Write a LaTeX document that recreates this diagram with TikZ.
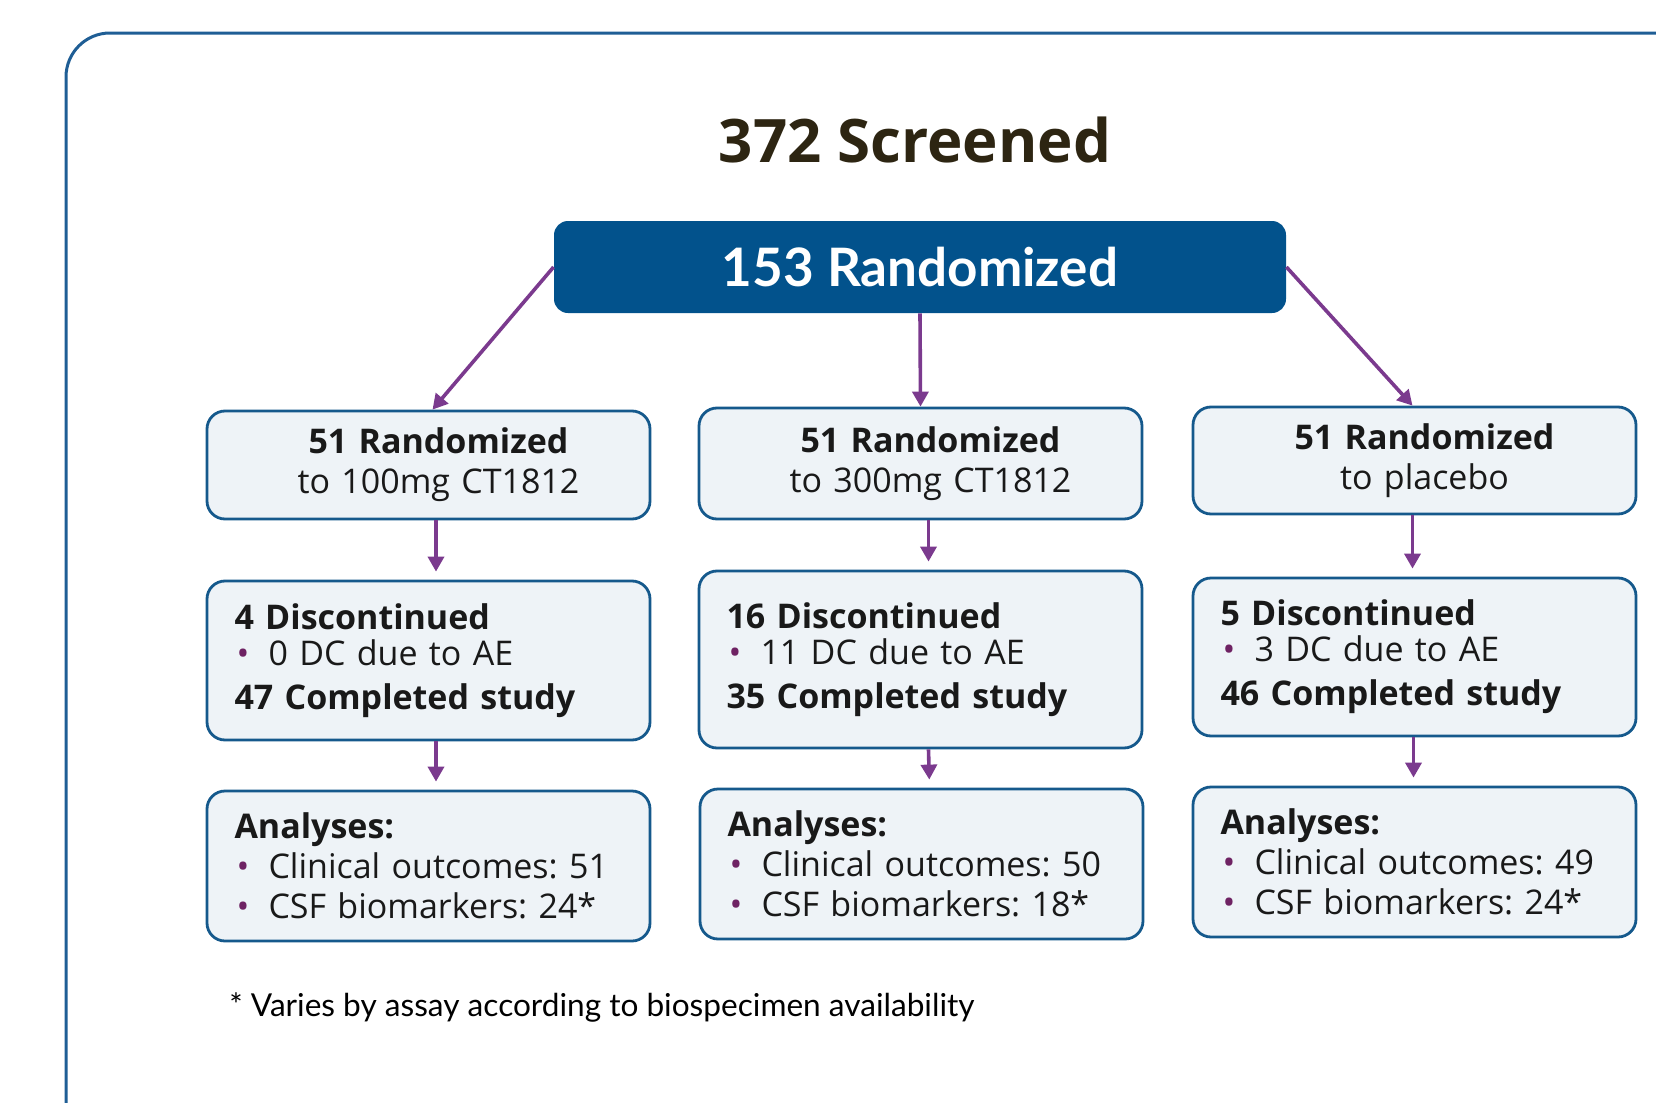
\documentclass[tikz,border=0pt]{standalone}
\usepackage{fontspec}
\setmainfont{Open Sans}
\newfontfamily\narrowfont{Lato}
\usetikzlibrary{arrows.meta, positioning}
\definecolor{frameblue}{HTML}{1F5E95}
\definecolor{boxblue}{HTML}{15598C}
\definecolor{boxfill}{HTML}{EEF3F7}
\definecolor{mainfill}{HTML}{02528C}
\definecolor{flowpurple}{HTML}{7B3A8E}
\definecolor{bulletpurple}{HTML}{6E2263}
\definecolor{titlebrown}{HTML}{2D2512}
\newcommand{\bitem}[1]{\makebox[17pt][l]{\hspace{1pt}\textcolor{bulletpurple}{\textbullet}}#1}
\newcommand{\armtitle}[2]{\hspace*{10pt}\textbf{#1}\\\hspace*{10pt}#2}

\begin{document}
\frenchspacing
\begin{tikzpicture}[x=0.5pt, y=-0.5pt,
    armbox/.style={draw=boxblue, fill=boxfill, line width=1.4pt, rounded corners=9pt,
      text width=194pt, inner xsep=13.75pt, inner ysep=0pt, align=left,
      font=\fontsize{17pt}{20pt}\selectfont, text=black!90},
    mainbox/.style={fill=mainfill, rounded corners=7pt, minimum width=366pt,
      minimum height=46pt, text=white, font=\narrowfont\bfseries\fontsize{26.5pt}{30pt}\selectfont},
    flow/.style={draw=flowpurple, line width=1.8pt, -{Triangle[length=7.5pt,width=8pt]}}]
\useasboundingbox (0,0) rectangle (1656,1103);
\clip (0,0) rectangle (1656,1103);
% outer frame, runs off the page at right and bottom
\draw[frameblue, line width=1.5pt, rounded corners=22pt] (66,1200) -- (66,33) -- (1750,33);

\node[text=titlebrown, font=\bfseries\fontsize{30pt}{34pt}\selectfont] (screened) at (915,140) {372 Screened};
\node[mainbox] (rand) at (920,267) {153 Randomized};

% arms
\node[armbox, align=center, minimum height=54pt] (r100) at (428.5,465)
  {\armtitle{51 Randomized}{to 100mg CT1812}};
\node[armbox, align=center, minimum height=55.5pt] (r300) at (920.5,463.5)
  {\armtitle{51 Randomized}{to 300mg CT1812}};
\node[armbox, align=center, minimum height=53.5pt] (rpl) at (1414.5,460.5)
  {\armtitle{51 Randomized}{to placebo}};

% discontinued
\node[armbox, minimum height=79.5pt] (d100) at (428.5,660.5)
  {\textbf{4 Discontinued}\\[-2pt]\bitem{0 DC due to AE}\\[2pt]\textbf{47 Completed study}};
\node[armbox, minimum height=88.5pt] (d300) at (920.5,659.5)
  {\textbf{16 Discontinued}\\[-2pt]\bitem{11 DC due to AE}\\[2pt]\textbf{35 Completed study}};
\node[armbox, minimum height=79pt] (dpl) at (1414.5,657)
  {\textbf{5 Discontinued}\\[-2pt]\bitem{3 DC due to AE}\\[2pt]\textbf{46 Completed study}};

% analyses
\node[armbox, minimum height=75pt] (a100) at (428.5,866)
  {\textbf{Analyses:}\\\bitem{Clinical outcomes: 51}\\\bitem{CSF biomarkers: 24*}};
\node[armbox, minimum height=75pt] (a300) at (921.5,864)
  {\textbf{Analyses:}\\\bitem{Clinical outcomes: 50}\\\bitem{CSF biomarkers: 18*}};
\node[armbox, minimum height=75pt] (apl) at (1414.5,862)
  {\textbf{Analyses:}\\\bitem{Clinical outcomes: 49}\\\bitem{CSF biomarkers: 24*}};

\node[anchor=base west, inner sep=0pt, font=\narrowfont\fontsize{15.8pt}{18pt}\selectfont] (note) at (229,1016)
  {* Varies by assay according to biospecimen availability};

% connectors
\draw[flow] (rand.west) -- ([xshift=2pt]r100.north);
\draw[flow] (rand.south) -- (r300.north);
\draw[flow] (rand.east) -- ([xshift=-1pt]rpl.north);
\foreach \a/\b/\dx in {r100/d100/3.75pt, r300/d300/4pt, rpl/dpl/-1pt, d100/a100/3.75pt, d300/a300/4pt, dpl/apl/-0.5pt}
  \draw[flow, shorten >=4pt] ([xshift=\dx]\a.south) -- ([xshift=\dx]\b.north);
\end{tikzpicture}
\end{document}
